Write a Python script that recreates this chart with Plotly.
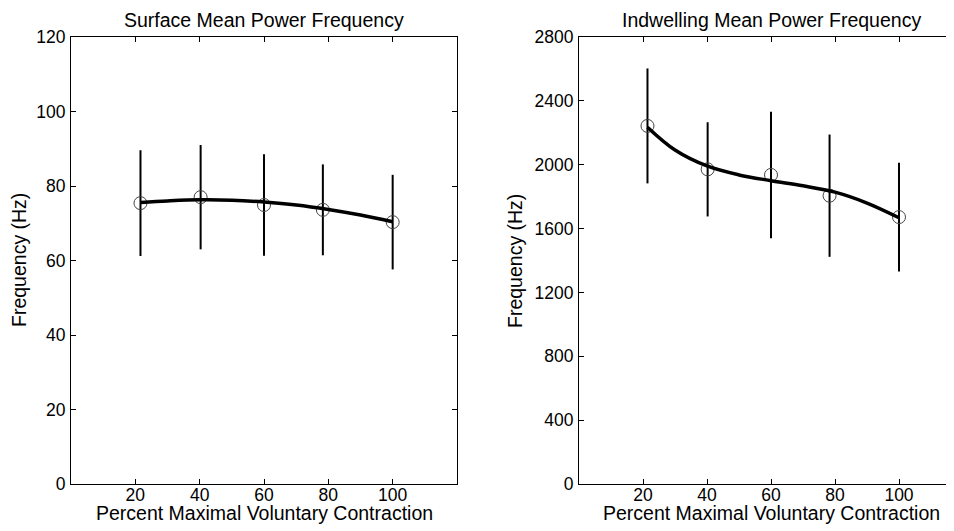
import plotly.graph_objects as go

# ---- data ----
pct_mvc = [21.6, 40.3, 60.0, 78.3, 100.0]
surface_mean = [75.4, 77.0, 74.9, 73.6, 70.3]
surface_sd = [14.2, 14.0, 13.6, 12.2, 12.7]
surface_fit_x = [21.6, 30, 40, 50, 60, 70, 80, 90, 100]
surface_fit_y = [75.6, 76.0, 76.3, 76.2, 75.7, 74.9, 73.7, 72.2, 70.4]

indw_x = [21.4, 40.2, 60.0, 78.3, 100.0]
indw_mean = [2243, 1971, 1936, 1806, 1672]
indw_sd = [360, 295, 396, 383, 341]
indw_fit_x = [21.4, 30, 40, 50, 60, 70, 80, 90, 100]
indw_fit_y = [2235, 2092, 1992, 1936, 1900, 1868, 1828, 1760, 1668]

x_ticks = [20, 40, 60, 80, 100]
surf_y_ticks = [0, 20, 40, 60, 80, 100, 120]
indw_y_ticks = [0, 400, 800, 1200, 1600, 2000, 2400, 2800]

# the page body has an 8px margin, so the figure is sized/offset to compensate
OFF = 8
W, H = 954 - OFF, 531 - OFF
FONT = "Liberation Sans, Arial, sans-serif"

def px(x):
    return (x - OFF) / W

def py(y):
    return 1 - (y - OFF) / H

fig = go.Figure()

def add_panel(xs, ys, sd, fx, fy, xa, ya):
    fig.add_trace(go.Scatter(
        x=xs, y=ys, mode="markers", xaxis=xa, yaxis=ya,
        marker=dict(symbol="circle-open", size=13, color="#444",
                    line=dict(width=1, color="#444")),
        error_y=dict(type="data", array=sd, visible=True,
                     thickness=2, width=0, color="black"),
        showlegend=False, hoverinfo="skip"))
    fig.add_trace(go.Scatter(
        x=fx, y=fy, mode="lines", xaxis=xa, yaxis=ya,
        line=dict(color="black", width=3.5, shape="spline"),
        showlegend=False, hoverinfo="skip"))

add_panel(pct_mvc, surface_mean, surface_sd, surface_fit_x, surface_fit_y, "x", "y")
add_panel(indw_x, indw_mean, indw_sd, indw_fit_x, indw_fit_y, "x2", "y2")

y_dom = [py(484), py(37)]
ax_common = dict(showgrid=False, zeroline=False, showline=True, linecolor="black",
                 linewidth=1, ticks="inside", ticklen=5, tickcolor="black",
                 automargin=False,
                 tickfont=dict(family=FONT, size=17.5, color="black"))

fig.update_layout(
    width=W, height=H, margin=dict(l=0, r=0, t=0, b=0),
    paper_bgcolor="white", plot_bgcolor="white",
    xaxis=dict(domain=[px(71), px(457)], range=[0, 120], tickvals=x_ticks,
               mirror="ticks", anchor="y", ticklabelstandoff=-5, **ax_common),
    yaxis=dict(domain=y_dom, range=[0, 120], tickvals=surf_y_ticks,
               mirror="ticks", anchor="x", ticklabelstandoff=1, **ax_common),
    xaxis2=dict(domain=[px(579), 1.0], range=[0, (954 - 579) / 3.2], tickvals=x_ticks,
                mirror="ticks", anchor="y2", ticklabelstandoff=-5, **ax_common),
    yaxis2=dict(domain=y_dom, range=[0, 2800], tickvals=indw_y_ticks,
                mirror=False, anchor="x2", ticklabelstandoff=1, **ax_common),
)

title_font = dict(family=FONT, size=19.5, color="black")
annos = [
    dict(text="Surface Mean Power Frequency", x=px((71 + 457) / 2), y=py(20)),
    dict(text="Indwelling Mean Power Frequency", x=px((579 + 963) / 2), y=py(20)),
    dict(text="Percent Maximal Voluntary Contraction", x=px((71 + 457) / 2), y=py(513)),
    dict(text="Percent Maximal Voluntary Contraction", x=px((579 + 963) / 2), y=py(513)),
    dict(text="Frequency (Hz)", x=px(19), y=py(260), textangle=-90),
    dict(text="Frequency (Hz)", x=px(515), y=py(261), textangle=-90),
]
for a in annos:
    fig.add_annotation(xref="paper", yref="paper", showarrow=False,
                       xanchor="center", yanchor="middle", font=title_font, **a)

fig.write_html("out.html")
